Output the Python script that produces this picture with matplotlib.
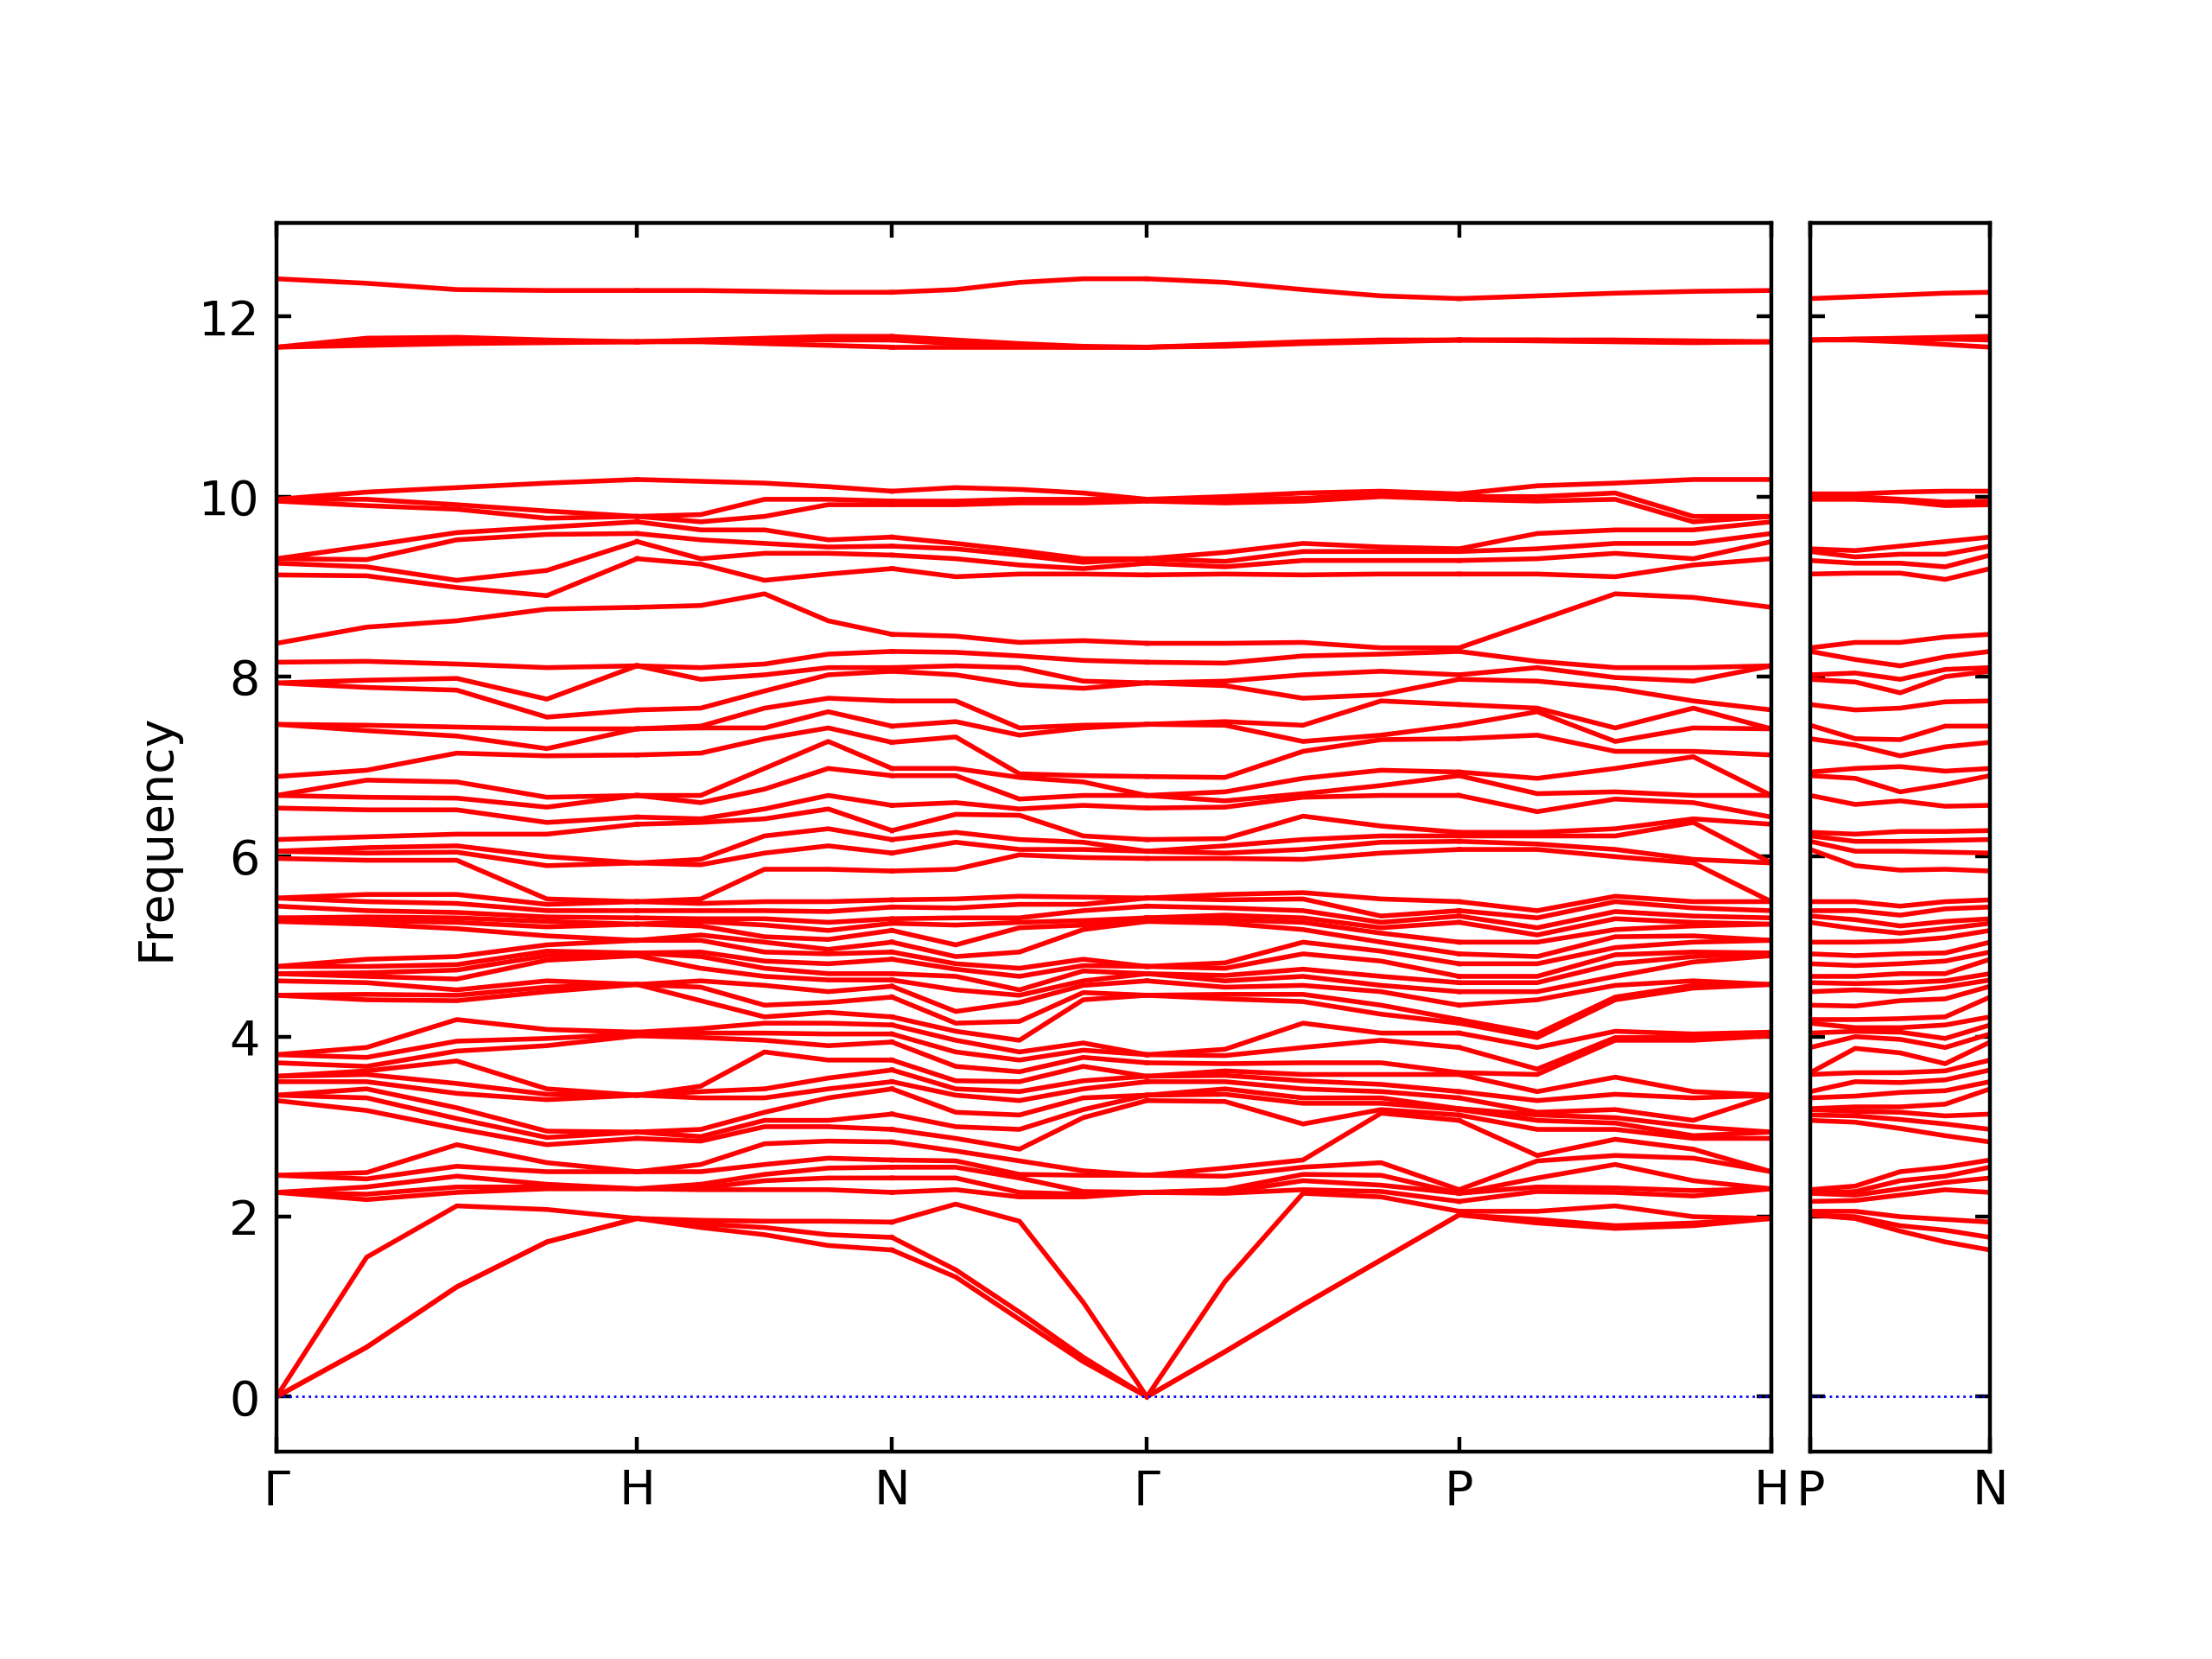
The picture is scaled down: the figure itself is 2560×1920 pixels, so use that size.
import numpy as np
import matplotlib
matplotlib.use('Agg')
import matplotlib.pyplot as plt

# bcc path, segment lengths in units of 2pi/a
seg_main = [1.0, 0.7071, 0.7071, 0.8660, 0.8660]   # G-H, H-N, N-G, G-P, P-H
seg_side = [0.5]                                   # P-N
labels_main = ['Γ', 'H', 'N', 'Γ', 'P', 'H']
labels_side = ['P', 'N']
frac = [0.0, 0.25, 0.5, 0.75, 1.0]   # where along each segment the values were read

# frequencies (sorted) at each sample point
gamma = [0, 0, 0, 2.27, 2.27, 2.27, 2.46, 2.46, 3.29, 3.35, 3.35, 3.50, 3.56, 3.56, 3.71, 3.80, 3.80,
         4.46, 4.46, 4.62, 4.70, 4.70, 4.78, 4.78, 5.28, 5.32, 5.32, 5.45, 5.54, 5.54, 5.98, 6.06, 6.06, 6.19,
         6.54, 6.68, 6.68, 6.89, 7.47, 7.47, 7.93, 7.93, 8.16, 8.37, 9.13, 9.26, 9.31, 9.31, 9.95, 9.97, 9.97,
         11.66, 11.66, 11.66, 12.42]
gh_25 = [0.55, 0.55, 1.55, 2.19, 2.25, 2.33, 2.42, 2.49, 3.18, 3.32, 3.42, 3.50, 3.58, 3.62, 3.67, 3.77, 3.88,
         4.41, 4.47, 4.60, 4.67, 4.71, 4.78, 4.86, 5.25, 5.29, 5.33, 5.40, 5.50, 5.58, 5.96, 6.04, 6.10, 6.22,
         6.52, 6.66, 6.85, 6.96, 7.40, 7.46, 7.88, 7.96, 8.17, 8.55, 9.12, 9.22, 9.30, 9.45, 9.90, 9.97, 10.05,
         11.68, 11.72, 11.76, 12.37]
gh_50 = [1.22, 1.22, 2.12, 2.27, 2.33, 2.45, 2.56, 2.80, 2.98, 3.09, 3.21, 3.37, 3.48, 3.73, 3.84, 3.95, 4.19,
         4.40, 4.46, 4.52, 4.64, 4.74, 4.80, 4.89, 5.20, 5.27, 5.32, 5.38, 5.48, 5.58, 5.96, 6.05, 6.12, 6.25,
         6.52, 6.65, 6.83, 7.15, 7.34, 7.44, 7.85, 7.98, 8.14, 8.62, 8.99, 9.07, 9.52, 9.60, 9.86, 9.91, 10.10,
         11.70, 11.72, 11.77, 12.30]
gh_75 = [1.72, 1.72, 2.08, 2.31, 2.33, 2.36, 2.50, 2.60, 2.80, 2.88, 2.95, 3.30, 3.36, 3.42, 3.90, 3.98, 4.08,
         4.50, 4.55, 4.62, 4.85, 4.90, 4.95, 5.02, 5.12, 5.22, 5.28, 5.33, 5.40, 5.47, 5.53, 5.90, 6.00,
         6.25, 6.38, 6.55, 6.66, 7.12, 7.20, 7.42, 7.55, 7.75, 8.10, 8.75, 8.90, 9.18, 9.58, 9.66, 9.76, 9.84,
         10.15, 11.71, 11.72, 11.74, 12.29]
h = [1.98, 1.98, 1.98, 2.31, 2.31, 2.31, 2.50, 2.50, 2.87, 2.94, 2.94, 3.35, 3.35, 3.35, 4.01, 4.03, 4.05,
     4.58, 4.58, 4.58, 4.90, 4.93, 4.93, 5.07, 5.07, 5.25, 5.25, 5.32, 5.40, 5.50, 5.50, 5.93, 5.93,
     6.36, 6.44, 6.68, 6.68, 7.13, 7.42, 7.42, 7.63, 8.12, 8.12, 8.77, 9.31, 9.50, 9.59, 9.72, 9.78, 9.78,
     10.19, 11.72, 11.72, 11.72, 12.29]
hn_25 = [1.88, 1.92, 1.96, 2.30, 2.32, 2.36, 2.50, 2.58, 2.84, 2.89, 2.97, 3.32, 3.39, 3.45, 3.99, 4.04, 4.09,
         4.40, 4.55, 4.62, 4.76, 4.89, 4.94, 5.07, 5.13, 5.23, 5.28, 5.31, 5.40, 5.48, 5.53, 5.91, 5.97,
         6.38, 6.42, 6.60, 6.68, 7.15, 7.43, 7.45, 7.65, 7.97, 8.10, 8.79, 9.25, 9.31, 9.52, 9.63, 9.72, 9.80,
         10.17, 11.72, 11.73, 11.74, 12.29]
hn_50 = [1.80, 1.88, 1.95, 2.30, 2.40, 2.47, 2.58, 2.81, 3.00, 3.07, 3.16, 3.32, 3.42, 3.83, 3.96, 4.04, 4.15,
         4.22, 4.35, 4.57, 4.67, 4.76, 4.84, 4.94, 5.05, 5.11, 5.24, 5.31, 5.40, 5.50, 5.86, 6.04,
         6.23, 6.42, 6.53, 6.75, 6.98, 7.31, 7.43, 7.65, 7.84, 8.02, 8.14, 8.92, 9.07, 9.37, 9.48, 9.63, 9.78, 9.97,
         10.15, 11.70, 11.74, 11.76, 12.28]
hn_75 = [1.68, 1.80, 1.95, 2.30, 2.43, 2.54, 2.65, 2.84, 3.00, 3.07, 3.32, 3.42, 3.54, 3.74, 3.90, 4.03, 4.15,
         4.27, 4.38, 4.50, 4.63, 4.70, 4.81, 4.92, 4.97, 5.08, 5.18, 5.27, 5.39, 5.50, 5.86, 6.12, 6.31, 6.53,
         6.68, 6.98, 7.28, 7.43, 7.61, 7.76, 8.02, 8.10, 8.25, 8.62, 9.14, 9.37, 9.44, 9.52, 9.91, 9.97, 10.11,
         11.68, 11.74, 11.78, 12.27]
n = [1.63, 1.77, 1.94, 2.27, 2.43, 2.55, 2.63, 2.83, 2.97, 3.14, 3.42, 3.50, 3.63, 3.74, 3.94, 4.03, 4.13,
     4.22, 4.44, 4.56, 4.63, 4.70, 4.86, 4.94, 5.05, 5.18, 5.26, 5.31, 5.44, 5.52, 5.84, 6.04, 6.19, 6.29,
     6.57, 6.90, 6.98, 7.27, 7.45, 7.73, 8.06, 8.10, 8.28, 8.47, 9.20, 9.35, 9.45, 9.55, 9.91, 9.95, 10.06,
     11.66, 11.74, 11.78, 12.27]
ng_25 = [1.33, 1.41, 2.14, 2.30, 2.43, 2.55, 2.62, 2.73, 2.87, 3.00, 3.16, 3.35, 3.42, 3.51, 3.67, 3.83, 3.96,
         4.06, 4.15, 4.28, 4.52, 4.67, 4.75, 4.81, 4.89, 5.02, 5.24, 5.32, 5.43, 5.53, 5.86, 6.16, 6.27, 6.47,
         6.60, 6.90, 6.98, 7.33, 7.50, 7.73, 8.02, 8.12, 8.27, 8.45, 9.11, 9.31, 9.42, 9.48, 9.91, 9.95, 10.10,
         11.66, 11.70, 11.74, 12.30]
ng_50 = [0.86, 0.94, 1.95, 2.22, 2.27, 2.43, 2.47, 2.62, 2.75, 2.97, 3.13, 3.29, 3.39, 3.50, 3.61, 3.74, 3.83,
         3.96, 4.17, 4.38, 4.46, 4.52, 4.67, 4.76, 4.94, 5.21, 5.27, 5.32, 5.47, 5.56, 6.02, 6.08, 6.19, 6.46,
         6.53, 6.64, 6.88, 6.92, 7.35, 7.43, 7.91, 8.10, 8.23, 8.38, 9.14, 9.24, 9.35, 9.40, 9.93, 9.97, 10.08,
         11.66, 11.67, 11.70, 12.38]
ng_75 = [0.39, 0.44, 1.05, 2.22, 2.25, 2.28, 2.46, 2.51, 3.10, 3.19, 3.32, 3.42, 3.51, 3.67, 3.77, 3.85, 3.93,
         4.41, 4.49, 4.57, 4.62, 4.73, 4.79, 4.86, 5.19, 5.24, 5.29, 5.40, 5.47, 5.55, 5.99, 6.08, 6.16, 6.23,
         6.57, 6.68, 6.83, 6.90, 7.43, 7.46, 7.87, 7.95, 8.18, 8.40, 9.14, 9.20, 9.27, 9.31, 9.93, 9.97, 10.04,
         11.66, 11.66, 11.67, 12.42]
gp_25 = [0.50, 0.50, 1.28, 2.26, 2.27, 2.30, 2.45, 2.54, 3.28, 3.36, 3.42, 3.50, 3.57, 3.62, 3.70, 3.79, 3.86,
         4.42, 4.47, 4.55, 4.62, 4.68, 4.76, 4.82, 5.26, 5.30, 5.35, 5.43, 5.52, 5.58, 5.98, 6.04, 6.12, 6.20,
         6.55, 6.62, 6.72, 6.88, 7.46, 7.50, 7.90, 7.95, 8.15, 8.37, 9.14, 9.22, 9.28, 9.38, 9.93, 9.97, 10.00,
         11.67, 11.68, 11.69, 12.38]
gp_50 = [1.02, 1.02, 2.26, 2.30, 2.40, 2.47, 2.55, 2.63, 3.03, 3.26, 3.32, 3.42, 3.51, 3.58, 3.71, 3.88, 4.15,
         4.39, 4.47, 4.57, 4.67, 4.75, 4.92, 5.05, 5.19, 5.27, 5.32, 5.40, 5.53, 5.60, 5.97, 6.08, 6.19, 6.45,
         6.66, 6.70, 6.87, 7.17, 7.28, 7.46, 7.76, 8.02, 8.23, 8.38, 9.13, 9.29, 9.39, 9.48, 9.95, 9.98, 10.04,
         11.70, 11.71, 11.72, 12.30]
gp_75 = [1.52, 1.52, 2.22, 2.28, 2.35, 2.46, 2.60, 3.15, 3.19, 3.26, 3.32, 3.39, 3.47, 3.58, 3.71, 3.96, 4.04,
         4.25, 4.35, 4.50, 4.57, 4.67, 4.84, 4.95, 5.05, 5.15, 5.21, 5.27, 5.34, 5.53, 6.04, 6.16, 6.23, 6.34,
         6.68, 6.79, 6.96, 7.30, 7.35, 7.73, 7.80, 8.06, 8.25, 8.32, 9.14, 9.29, 9.39, 9.44, 10.00, 10.03, 10.06,
         11.72, 11.73, 11.74, 12.23]
p = [2.02, 2.02, 2.06, 2.17, 2.26, 2.26, 2.30, 3.07, 3.13, 3.19, 3.20, 3.32, 3.39, 3.58, 3.60, 3.88, 4.04,
     4.15, 4.19, 4.35, 4.50, 4.60, 4.67, 4.81, 4.92, 5.05, 5.27, 5.34, 5.40, 5.50, 6.08, 6.17, 6.23, 6.27,
     6.68, 6.90, 6.94, 7.31, 7.46, 7.69, 7.97, 8.02, 8.28, 8.32, 9.14, 9.29, 9.39, 9.42, 9.97, 10.00, 10.03,
     11.74, 11.74, 11.74, 12.20]
ph_25 = [1.93, 1.97, 2.06, 2.28, 2.33, 2.43, 2.62, 2.68, 2.97, 3.07, 3.13, 3.16, 3.29, 3.39, 3.58, 3.64, 3.88,
         3.99, 4.03, 4.41, 4.50, 4.60, 4.67, 4.81, 4.89, 5.05, 5.13, 5.21, 5.32, 5.40, 6.08, 6.14, 6.23, 6.27,
         6.50, 6.70, 6.87, 7.35, 7.61, 7.65, 7.95, 8.10, 8.17, 8.62, 9.14, 9.31, 9.42, 9.59, 9.95, 10.00, 10.12,
         11.73, 11.74, 11.74, 12.23]
ph_50 = [1.87, 1.90, 2.12, 2.27, 2.32, 2.58, 2.68, 2.86, 2.97, 3.04, 3.10, 3.19, 3.36, 3.55, 3.96, 3.99, 4.06,
         4.41, 4.44, 4.57, 4.67, 4.81, 4.91, 4.99, 5.11, 5.19, 5.31, 5.39, 5.50, 5.56, 6.00, 6.08, 6.23, 6.31,
         6.64, 6.72, 6.98, 7.17, 7.28, 7.43, 7.87, 7.99, 8.10, 8.92, 9.11, 9.37, 9.48, 9.63, 9.97, 10.04, 10.15,
         11.72, 11.73, 11.74, 12.26]
ph_75 = [1.90, 1.93, 2.00, 2.23, 2.29, 2.40, 2.65, 2.75, 2.87, 2.90, 3.00, 3.07, 3.32, 3.39, 3.96, 3.99, 4.03,
         4.54, 4.57, 4.62, 4.83, 4.89, 4.94, 5.05, 5.12, 5.23, 5.27, 5.34, 5.43, 5.50, 5.93, 5.97, 6.38, 6.42,
         6.60, 6.68, 7.11, 7.17, 7.43, 7.65, 7.73, 7.95, 8.10, 8.88, 9.24, 9.31, 9.48, 9.63, 9.72, 9.78, 10.19,
         11.71, 11.72, 11.73, 12.28]
pn_25 = [1.98, 2.00, 2.06, 2.18, 2.24, 2.28, 2.34, 3.05, 3.12, 3.17, 3.22, 3.34, 3.50, 3.60, 3.87, 4.00, 4.06,
         4.10, 4.19, 4.34, 4.52, 4.59, 4.67, 4.79, 4.90, 5.05, 5.20, 5.30, 5.40, 5.50, 5.90, 6.06, 6.17, 6.25,
         6.58, 6.87, 6.98, 7.24, 7.31, 7.63, 7.94, 8.04, 8.19, 8.38, 9.15, 9.26, 9.33, 9.40, 9.97, 10.00, 10.03,
         11.74, 11.75, 11.75, 12.22]
pn_50 = [1.84, 1.90, 2.00, 2.24, 2.31, 2.40, 2.50, 2.98, 3.08, 3.16, 3.22, 3.38, 3.49, 3.60, 3.82, 3.97, 4.05,
         4.10, 4.20, 4.40, 4.50, 4.60, 4.70, 4.81, 4.92, 5.06, 5.15, 5.23, 5.35, 5.45, 5.85, 6.06, 6.17, 6.28,
         6.62, 6.72, 7.00, 7.12, 7.30, 7.65, 7.82, 7.97, 8.12, 8.38, 9.15, 9.26, 9.36, 9.45, 9.95, 9.97, 10.05,
         11.72, 11.75, 11.76, 12.24]
pn_75 = [1.72, 1.85, 1.97, 2.30, 2.38, 2.45, 2.55, 2.90, 3.03, 3.12, 3.25, 3.40, 3.52, 3.62, 3.70, 3.88, 3.98,
         4.13, 4.22, 4.42, 4.55, 4.62, 4.70, 4.84, 4.93, 5.10, 5.20, 5.28, 5.42, 5.50, 5.86, 6.05, 6.18, 6.28,
         6.56, 6.80, 6.95, 7.22, 7.45, 7.72, 8.00, 8.08, 8.22, 8.44, 9.08, 9.22, 9.36, 9.50, 9.90, 9.94, 10.06,
         11.69, 11.75, 11.77, 12.26]

main_path = [[gamma, gh_25, gh_50, gh_75, h],
             [h, hn_25, hn_50, hn_75, n],
             [n, ng_25, ng_50, ng_75, gamma],
             [gamma, gp_25, gp_50, gp_75, p],
             [p, ph_25, ph_50, ph_75, h]]
side_path = [[p, pn_25, pn_50, pn_75, n]]


def draw(ax, segs, lengths, labels):
    start = 0.0
    ticks = [0.0]
    for cols, L in zip(segs, lengths):
        x = start + np.array(frac) * L
        ax.plot(x, np.array(cols), color='r', lw=1.0)
        start += L
        ticks.append(start)
    ax.axhline(0, color='b', ls=':', lw=0.5)
    ax.set_xlim(0, start)
    ax.set_ylim(-0.61, 13.04)
    ax.set_xticks(ticks)
    ax.set_xticklabels(labels)
    ax.set_yticks(range(0, 13, 2))
    ax.tick_params(direction='in', top=True, right=True, length=3)


fig = plt.figure(figsize=(6.4, 4.8), dpi=400)
ax1 = fig.add_axes([0.125, 0.125, 0.6758, 0.7406])
ax2 = fig.add_axes([0.8184, 0.125, 0.0813, 0.7406])

draw(ax1, main_path, seg_main, labels_main)
draw(ax2, side_path, seg_side, labels_side)
ax1.set_ylabel('Frequency')
ax2.set_yticklabels([])

fig.savefig('out.png', dpi=400)
